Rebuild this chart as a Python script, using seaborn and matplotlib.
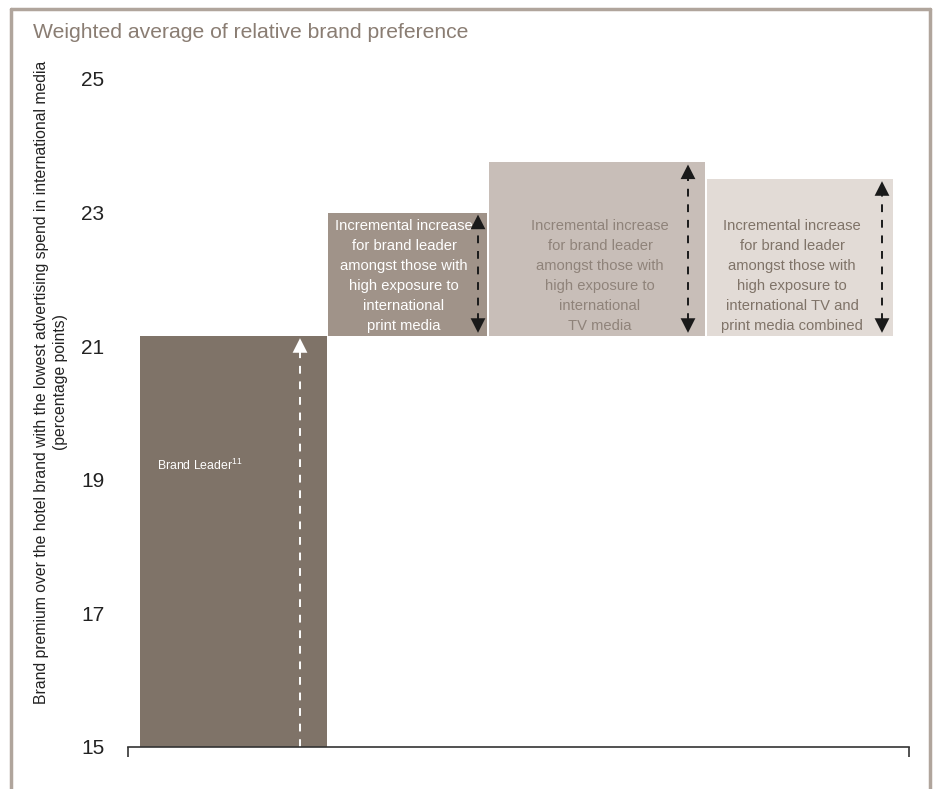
import matplotlib
matplotlib.use("Agg")
import matplotlib.pyplot as plt
from matplotlib.lines import Line2D
import seaborn as sns

# Values (percentage points)
categories = ["Brand Leader", "Print media", "TV media", "TV and print combined"]
brand_leader = 21.15
segment_tops = [23.0, 23.75, 23.5]
y_ticks = [15, 17, 19, 21, 23, 25]

title_text = "Weighted average of relative brand preference"
ylabel_text = ("Brand premium over the hotel brand with the lowest advertising spend in international media\n"
               "(percentage points)")
bar_texts = [
    "Incremental increase\nfor brand leader\namongst those with\nhigh exposure to\ninternational\nprint media",
    "Incremental increase\nfor brand leader\namongst those with\nhigh exposure to\ninternational\nTV media",
    "Incremental increase\nfor brand leader\namongst those with\nhigh exposure to\ninternational TV and\nprint media combined",
]

sns.set_theme(style="white")
plt.rcParams["font.family"] = ["Liberation Sans", "DejaVu Sans"]
plt.rcParams["mathtext.fontset"] = "custom"
plt.rcParams["mathtext.rm"] = "Liberation Sans"

W, H = 936, 789
fig = plt.figure(figsize=(W / 100, H / 100), dpi=100)
ax = fig.add_axes([128 / W, (H - 747) / H, (909 - 128) / W, (747 - 79) / H])

# horizontal layout (pixel-like units along the category axis)
lefts = [12, 200, 361, 579]
widths = [187, 159, 216, 186]
fills = ["#7f7368", "#a09389", "#c8beb8", "#e2dbd6"]
text_colors = ["white", "#8f837a", "#7f7368"]
text_x = [276, 472, 664]
arrow_x = [350, 560, 754]

# Brand leader bar
ax.bar(lefts[0], brand_leader - 15, width=widths[0], bottom=15, align="edge",
       color=fills[0], linewidth=0)
# Incremental floating bars
for i, top in enumerate(segment_tops):
    ax.bar(lefts[i + 1], top - brand_leader, width=widths[i + 1], bottom=brand_leader,
           align="edge", color=fills[i + 1], linewidth=0)
    ax.text(text_x[i], 22.05, bar_texts[i], ha="center", va="center",
            color=text_colors[i], fontsize=10.6, linespacing=1.53)

def dashed_arrow(x, lo, hi, color, both=True):
    head = 0.18
    ax.vlines(x, lo + (head if both else 0), hi - head, colors=color,
              linestyles=(0, (4, 4)), linewidth=1.4)
    props = dict(arrowstyle="-|>,head_length=0.75,head_width=0.38", color=color,
                 lw=0, shrinkA=0, shrinkB=0, mutation_scale=14)
    ax.annotate("", xy=(x, hi), xytext=(x, hi - 0.05), arrowprops=props)
    if both:
        ax.annotate("", xy=(x, lo), xytext=(x, lo + 0.05), arrowprops=props)

dashed_arrow(172, 15, brand_leader - 0.03, "white", both=False)
for i, top in enumerate(segment_tops):
    dashed_arrow(arrow_x[i], brand_leader + 0.05, top - 0.03, "#1a1a1a")

ax.text(72, 19.22, "Brand Leader$^{11}$", ha="center", va="center",
        color="white", fontsize=8.8)

ax.set_xlim(0, 781)
ax.set_ylim(15, 25)
ax.set_yticks(y_ticks)
ax.set_yticklabels([str(t) for t in y_ticks], fontsize=15, color="#222222")
ax.set_xticks([0, 781])
ax.set_xticklabels(["", ""])
ax.tick_params(axis="y", left=False, length=0, pad=17)
ax.tick_params(axis="x", bottom=True, direction="out", length=7, width=1.2, color="#333333")
sns.despine(ax=ax, left=True, top=True, right=True, bottom=False)
ax.spines["bottom"].set_color("#333333")
ax.spines["bottom"].set_linewidth(1.2)
ax.set_ylabel(ylabel_text, fontsize=11.3, color="#222222", linespacing=1.3)
ax.yaxis.set_label_coords(-0.077, 0.546)

fig.text(33 / W, 1 - 32 / H, title_text, ha="left", va="center",
         color="#8a7d73", fontsize=15.2)

# frame around the panel (open at the bottom)
frame_c = "#b0a59c"
fig.add_artist(Line2D([10.5 / W, 929.5 / W], [1 - 8.5 / H, 1 - 8.5 / H], color=frame_c, lw=2.5))
fig.add_artist(Line2D([10.5 / W, 10.5 / W], [0, 1 - 8.5 / H], color=frame_c, lw=2.5))
fig.add_artist(Line2D([929.5 / W, 929.5 / W], [0, 1 - 8.5 / H], color=frame_c, lw=2.5))

fig.savefig("out.png", dpi=100)
